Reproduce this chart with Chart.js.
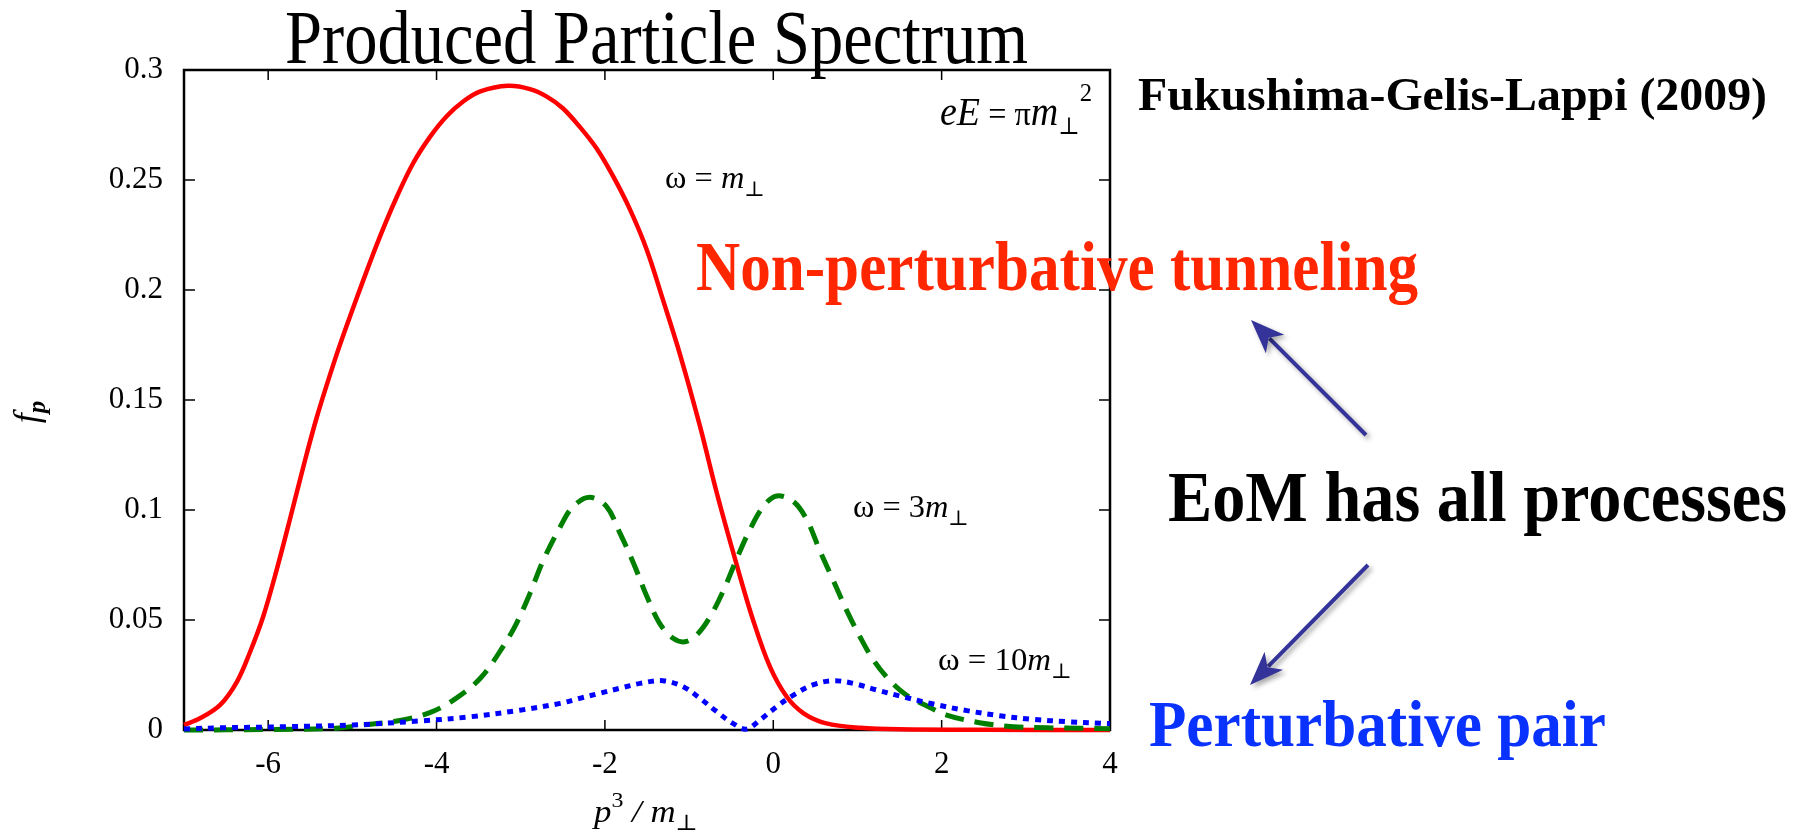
<!DOCTYPE html>
<html>
<head>
<meta charset="utf-8">
<script src="https://cdn.jsdelivr.net/npm/chart.js@4.4.1/dist/chart.umd.min.js"></script>
<style>
  body { margin: 0; background: #fff; }
  #wrap { width: 1804px; height: 835px; position: relative; }
</style>
</head>
<body>
<div id="wrap"><canvas id="spectrum"></canvas></div>
<script>
// p3/m_perp values and f_p, one pair of arrays per curve
const redP = [-7, -6.81, -6.57, -6.37, -6.22, -6.06, -5.90, -5.74, -5.58, -5.42, -5.21, -5.07, -4.87, -4.67, -4.47, -4.28, -4.08, -3.88, -3.68, -3.48, -3.15, -2.89, -2.69, -2.50, -2.30, -2.10, -1.90, -1.70, -1.50, -1.31, -1.11, -0.87, -0.67, -0.44, -0.24, -0.04, 0.16, 0.36, 0.63, 1.03, 1.5, 2.5, 4];
const redF = [0.0023, 0.0053, 0.0114, 0.022, 0.035, 0.0515, 0.0727, 0.096, 0.12, 0.1425, 0.168, 0.1835, 0.2045, 0.2245, 0.2425, 0.2575, 0.2695, 0.279, 0.2858, 0.2903, 0.2928, 0.2913, 0.2879, 0.2826, 0.2742, 0.2644, 0.2515, 0.2364, 0.218, 0.1955, 0.171, 0.138, 0.1076, 0.0758, 0.050, 0.0288, 0.0151, 0.0076, 0.003, 0.001, 0.0003, 0.0001, 0];

const greenP = [-7, -6, -5.2, -4.87, -4.47, -4.08, -3.80, -3.48, -3.21, -3.05, -2.89, -2.73, -2.53, -2.38, -2.18, -1.98, -1.82, -1.66, -1.50, -1.35, -1.19, -1.05, -0.91, -0.75, -0.59, -0.44, -0.28, -0.12, 0.04, 0.24, 0.40, 0.55, 0.71, 0.87, 1.03, 1.19, 1.38, 1.58, 1.82, 2.06, 2.45, 2.85, 3.25, 3.65, 4];
const greenF = [0, 0.0002, 0.0008, 0.0023, 0.0041, 0.0079, 0.0136, 0.0235, 0.0379, 0.0485, 0.0621, 0.0773, 0.0924, 0.1015, 0.1058, 0.1015, 0.0894, 0.0758, 0.0606, 0.0485, 0.0417, 0.0401, 0.0432, 0.0515, 0.0636, 0.0773, 0.0909, 0.1015, 0.1064, 0.1038, 0.0955, 0.0818, 0.0682, 0.0545, 0.0424, 0.0318, 0.0227, 0.0159, 0.011, 0.0068, 0.0033, 0.0015, 0.001, 0.0008, 0.0006];

const blueP = [-7, -6.57, -5.78, -4.99, -4.20, -3.60, -3.01, -2.53, -2.30, -2.06, -1.82, -1.58, -1.31, -1.07, -0.87, -0.67, -0.48, -0.32, -0.16, 0.04, 0.24, 0.47, 0.71, 0.95, 1.23, 1.50, 1.90, 2.30, 2.69, 3.09, 3.48, 3.90, 4];
const blueF = [0.0005, 0.001, 0.0015, 0.0023, 0.0041, 0.006, 0.009, 0.0121, 0.0144, 0.0167, 0.019, 0.0212, 0.0224, 0.0197, 0.0144, 0.0083, 0.003, 0.0004, 0.0045, 0.0106, 0.0159, 0.0205, 0.0224, 0.0212, 0.0182, 0.0155, 0.0118, 0.0088, 0.0065, 0.0048, 0.0038, 0.003, 0.0029];

const xTicks = [-6, -4, -2, 0, 2, 4];
const xTickLabels = ['-6', '-4', '-2', '0', '2', '4'];
const yTicks = [0, 0.05, 0.1, 0.15, 0.2, 0.25, 0.3];
const yTickLabels = ['0', '0.05', '0.1', '0.15', '0.2', '0.25', '0.3'];

const SERIF = "'Liberation Serif', 'DejaVu Serif', serif";
Chart.defaults.font.family = SERIF;

function pts(xs, ys) {
    return xs.map((x, i) => ({ x: x, y: ys[i] }));
}

// draws a row of text pieces (italics, sub/superscripts), squeezed to a width
function drawRuns(ctx, runs, x, y, align, width) {
    let total = 0;
    runs.forEach(r => {
        ctx.font = r.font;
        r.w = ctx.measureText(r.text).width;
        total += r.w;
    });
    const sx = width ? width / total : 1;
    let start = x;
    if (align === 'right') start = x - total * sx;
    if (align === 'center') start = x - total * sx / 2;
    ctx.save();
    ctx.translate(start, y);
    ctx.scale(sx, 1);
    ctx.textAlign = 'left';
    ctx.textBaseline = 'alphabetic';
    let cx = 0;
    runs.forEach(r => {
        ctx.font = r.font;
        ctx.fillStyle = r.color || '#000';
        ctx.fillText(r.text, cx, r.dy || 0);
        cx += r.w;
    });
    ctx.restore();
}

function arrow(ctx, x0, y0, x1, y1) {
    const ang = Math.atan2(y1 - y0, x1 - x0);
    const head = 34, half = 13;
    const bx = x1 - head * Math.cos(ang), by = y1 - head * Math.sin(ang);
    ctx.beginPath();
    ctx.moveTo(x0, y0);
    ctx.lineTo(bx + 8 * Math.cos(ang), by + 8 * Math.sin(ang));
    ctx.stroke();
    ctx.beginPath();
    ctx.moveTo(x1, y1);
    ctx.lineTo(bx + half * Math.sin(ang), by - half * Math.cos(ang));
    ctx.lineTo(bx + 9 * Math.cos(ang), by + 9 * Math.sin(ang));
    ctx.lineTo(bx - half * Math.sin(ang), by + half * Math.cos(ang));
    ctx.closePath();
    ctx.fill();
}

// gnuplot style box with inward ticks on all four sides
const framePlugin = {
    id: 'frame',
    beforeDatasetsDraw(chart) {
        const { ctx, chartArea: a, scales: { x, y } } = chart;
        ctx.save();
        ctx.strokeStyle = '#000';
        ctx.lineWidth = 1.5;
        ctx.beginPath();
        xTicks.forEach(v => {
            const px = x.getPixelForValue(v);
            ctx.moveTo(px, a.bottom); ctx.lineTo(px, a.bottom - 10);
            ctx.moveTo(px, a.top); ctx.lineTo(px, a.top + 10);
        });
        yTicks.forEach(v => {
            const py = y.getPixelForValue(v);
            ctx.moveTo(a.left, py); ctx.lineTo(a.left + 11, py);
            ctx.moveTo(a.right, py); ctx.lineTo(a.right - 11, py);
        });
        ctx.stroke();
        ctx.lineWidth = 2.5;
        ctx.strokeRect(a.left, a.top, a.right - a.left, a.bottom - a.top);
        ctx.restore();
    }
};

const textPlugin = {
    id: 'texts',
    afterDraw(chart) {
        const ctx = chart.ctx;
        const it = s => 'italic ' + s + 'px ' + SERIF;
        const rm = s => s + 'px ' + SERIF;
        const bd = s => 'bold ' + s + 'px ' + SERIF;

        drawRuns(ctx, [{ text: 'Produced Particle Spectrum', font: rm(76) }], 285, 63, 'left', 743);

        // axis titles
        drawRuns(ctx, [
            { text: 'p', font: it(32) },
            { text: '3', font: rm(22), dy: -15 },
            { text: ' / ', font: it(32) },
            { text: 'm', font: it(32) },
            { text: '\u22A5', font: rm(22), dy: 8 }
        ], 646, 822, 'center', 104);
        ctx.save();
        ctx.translate(38, 412);
        ctx.rotate(-Math.PI / 2);
        drawRuns(ctx, [
            { text: 'f', font: it(36) },
            { text: 'p', font: 'bold ' + it(25), dy: 7 }
        ], 0, 0, 'center');
        ctx.restore();

        // labels inside the box
        drawRuns(ctx, [
            { text: 'eE', font: it(40) },
            { text: ' = \u03C0', font: rm(34) },
            { text: 'm', font: it(40) },
            { text: '\u22A5', font: rm(24), dy: 9 },
            { text: '2', font: rm(26), dy: -24 }
        ], 1092, 125, 'right', 152);
        drawRuns(ctx, [
            { text: '\u03C9 = ', font: rm(31) },
            { text: 'm', font: it(31) },
            { text: '\u22A5', font: rm(21), dy: 8 }
        ], 665, 188, 'left', 100);
        drawRuns(ctx, [
            { text: '\u03C9 = 3', font: rm(31) },
            { text: 'm', font: it(31) },
            { text: '\u22A5', font: rm(21), dy: 8 }
        ], 853, 517, 'left', 116);
        drawRuns(ctx, [
            { text: '\u03C9 = 10', font: rm(31) },
            { text: 'm', font: it(31) },
            { text: '\u22A5', font: rm(21), dy: 8 }
        ], 938, 670, 'left', 134);

        // slide annotations
        drawRuns(ctx, [{ text: 'Fukushima-Gelis-Lappi (2009)', font: bd(46) }], 1138, 110, 'left', 629);
        drawRuns(ctx, [{ text: 'Non-perturbative tunneling', font: bd(70), color: '#ff2600' }], 696, 290, 'left', 722);
        drawRuns(ctx, [{ text: 'EoM has all processes', font: bd(72) }], 1168, 521, 'left', 619);
        drawRuns(ctx, [{ text: 'Perturbative pair', font: bd(66), color: '#0a32ff' }], 1149, 746, 'left', 457);

        ctx.save();
        ctx.strokeStyle = '#333399';
        ctx.fillStyle = '#333399';
        ctx.lineWidth = 4;
        ctx.shadowColor = 'rgba(0,0,0,0.35)';
        ctx.shadowBlur = 5;
        ctx.shadowOffsetX = 3;
        ctx.shadowOffsetY = 3;
        arrow(ctx, 1366, 435, 1251, 320);
        arrow(ctx, 1368, 565, 1250, 685);
        ctx.restore();
    }
};

new Chart(document.getElementById('spectrum'), {
    type: 'line',
    data: {
        datasets: [
            {
                label: '\u03C9 = m\u22A5',
                data: pts(redP, redF),
                borderColor: '#ff0000',
                borderWidth: 4.5,
                clip: false,
                order: 3
            },
            {
                label: '\u03C9 = 3m\u22A5',
                data: pts(greenP, greenF),
                borderColor: '#007f00',
                borderWidth: 5,
                borderDash: [19, 11],
                clip: false,
                order: 2
            },
            {
                label: '\u03C9 = 10m\u22A5',
                data: pts(blueP, blueF),
                borderColor: '#0000ff',
                borderWidth: 5,
                borderDash: [6, 6],
                clip: false,
                order: 1
            }
        ]
    },
    options: {
        responsive: true,
        maintainAspectRatio: false,
        animation: false,
        layout: { padding: { top: 70, right: 694, left: 0, bottom: 0 } },
        elements: {
            point: { radius: 0 },
            line: { tension: 0.35, fill: false }
        },
        plugins: {
            legend: { display: false },
            tooltip: { enabled: false }
        },
        scales: {
            x: {
                type: 'linear',
                min: -7,
                max: 4,
                afterBuildTicks: s => { s.ticks = xTicks.map(v => ({ value: v })); },
                afterFit: s => { s.height = 105; },
                grid: { display: false, drawTicks: false },
                border: { display: false },
                ticks: {
                    color: '#000',
                    font: { family: SERIF, size: 31 },
                    padding: 16,
                    maxRotation: 0,
                    autoSkip: false,
                    callback: (v, i) => xTickLabels[i]
                }
            },
            y: {
                type: 'linear',
                min: 0,
                max: 0.3,
                afterBuildTicks: s => { s.ticks = yTicks.map(v => ({ value: v })); },
                afterFit: s => { s.width = 184; },
                grid: { display: false, drawTicks: false },
                border: { display: false },
                ticks: {
                    color: '#000',
                    font: { family: SERIF, size: 31 },
                    padding: 21,
                    autoSkip: false,
                    callback: (v, i) => yTickLabels[i]
                }
            }
        }
    },
    plugins: [framePlugin, textPlugin]
});
</script>
</body>
</html>
